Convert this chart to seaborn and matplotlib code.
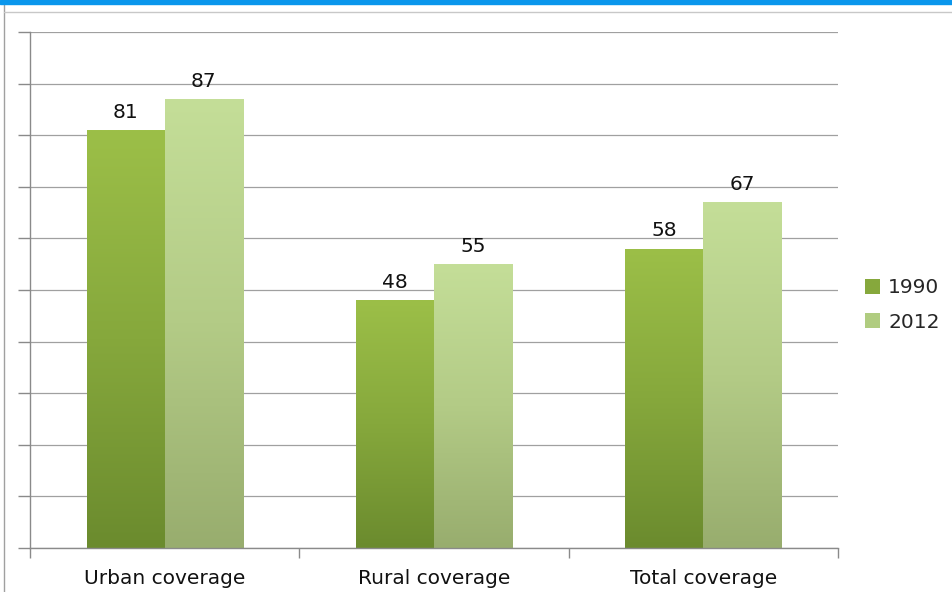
import numpy as np
import pandas as pd
import matplotlib
matplotlib.use("Agg")
import matplotlib.pyplot as plt
import seaborn as sns
from matplotlib.colors import LinearSegmentedColormap
from matplotlib.patches import Rectangle
from matplotlib.lines import Line2D

categories = ["Urban coverage", "Rural coverage", "Total coverage"]
years = ["1990", "2012"]
values_1990 = [81, 48, 58]
values_2012 = [87, 55, 67]

df = pd.DataFrame({
    "category": categories * 2,
    "year": [years[0]] * 3 + [years[1]] * 3,
    "value": values_1990 + values_2012,
})

sns.set_theme(style="white")
plt.rcParams['font.family'] = ['DejaVu Sans']

fig = plt.figure(figsize=(9.52, 5.92), dpi=100)
ax = fig.add_axes([30/952, 1 - 548/592, 808/952, 516/592])

palette = {"1990": "#86a83c", "2012": "#b0cc80"}
sns.barplot(data=df, x="category", y="value", hue="year", palette=palette,
            width=0.58, ax=ax, legend=True, linewidth=0, saturation=1)

ax.set_ylim(0, 100)
ax.set_xlim(-0.5, 2.5)
ax.set_yticks(np.arange(0, 101, 10))
ax.set_yticklabels([])
ax.set_xlabel("")
ax.set_ylabel("")
ax.grid(axis="y", color="#a0a0a0", linewidth=0.9)
ax.set_axisbelow(True)
for s in ["top", "right"]:
    ax.spines[s].set_visible(False)
for s in ["left", "bottom"]:
    ax.spines[s].set_color("#8a8a8a")
    ax.spines[s].set_linewidth(1)
ax.tick_params(axis="y", left=True, length=9, color="#8a8a8a", width=1, direction="out")
ax.set_xticks([0, 1, 2])
ax.set_xticklabels(categories, fontsize=14.5, color="#111111")
ax.tick_params(axis="x", bottom=False, pad=9)
# category boundary ticks
ax.set_xticks([-0.5, 0.5, 1.5, 2.5], minor=True)
ax.tick_params(axis="x", which="minor", bottom=True, length=7, color="#8a8a8a", width=1)

# gradient fills
grads = {
    0: LinearSegmentedColormap.from_list("g1", ["#6b8b2e", "#86a83c", "#9cbf48"]),
    1: LinearSegmentedColormap.from_list("g2", ["#98ad6e", "#b3cb86", "#c4de98"]),
}
bars = [p for p in ax.patches if isinstance(p, Rectangle) and p.get_height() > 0]
bars = sorted(bars, key=lambda p: p.get_x())
for i, p in enumerate(bars):
    x0, w, h = p.get_x(), p.get_width(), p.get_height()
    hue_idx = i % 2
    grad = np.linspace(0, 1, 256).reshape(-1, 1)
    im = ax.imshow(grad, extent=[x0, x0 + w, 0, h], origin="lower",
                   cmap=grads[hue_idx], aspect="auto", zorder=2)
    im.set_clip_path(p)
    p.set_edgecolor("#5f7a2a" if hue_idx == 0 else "#8fa268")
    p.set_linewidth(0.6)
    ax.text(x0 + w / 2, h + 1.6, f"{int(round(h))}", ha="center", va="bottom",
            fontsize=14.5, color="#111111", zorder=3)
ax.set_xlim(-0.5, 2.5)
ax.set_ylim(0, 100)

leg = ax.legend(loc="center left", bbox_to_anchor=(1.0235, 0.471), frameon=False,
                fontsize=14.5, handlelength=0.75, handleheight=0.75,
                handletextpad=0.4, labelspacing=0.75, borderaxespad=0)
for h, c in zip(leg.legend_handles, ["#86a83c", "#b0cc80"]):
    h.set_facecolor(c)

# figure decorations
fig.add_artist(Rectangle((0, 1 - 4/592), 1, 4/592, transform=fig.transFigure,
                         color="#0a96ec", zorder=10))
fig.add_artist(Line2D([3.5/952, 3.5/952], [0, 1 - 4/592], transform=fig.transFigure,
                      color="#a0a0a0", linewidth=1))
fig.add_artist(Line2D([3.5/952, 1], [1 - 11.5/592, 1 - 11.5/592], transform=fig.transFigure,
                      color="#c8c8c8", linewidth=1))

fig.savefig("out.png", dpi=100)
